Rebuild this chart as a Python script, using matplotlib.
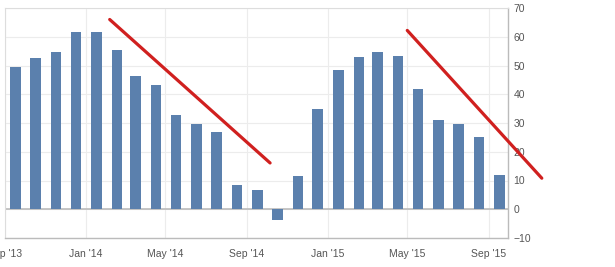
import numpy as np
import pandas as pd
import matplotlib
matplotlib.use("Agg")
import matplotlib.pyplot as plt

plt.rcParams["font.family"] = ["Liberation Sans", "DejaVu Sans"]

months = pd.date_range("2013-09-01", "2015-09-01", freq="MS")
values = [49.5, 52.6, 54.6, 61.7, 61.7, 55.4, 46.3, 43.2, 32.8, 29.7, 26.9, 8.3,
          6.8, -3.8, 11.4, 34.8, 48.3, 53.0, 54.8, 53.2, 41.7, 31.2, 29.7, 25.0, 11.8]

# hand-drawn trend lines
trend1_x = ["2014-02-06", "2014-10-06"]
trend1_y = [66.0, 16.1]
trend2_x = ["2015-05-01", "2015-11-20"]
trend2_y = [62.2, 10.8]

tick_dates = pd.to_datetime(["2013-09-01", "2014-01-01", "2014-05-01", "2014-09-01",
                             "2015-01-01", "2015-05-01", "2015-09-01"])
tick_labels = ["Sep '13", "Jan '14", "May '14", "Sep '14", "Jan '15", "May '15", "Sep '15"]

fig = plt.figure(figsize=(6.15, 2.67), dpi=100)
ax = fig.add_axes([5 / 615, 29 / 267, 503 / 615, 230 / 267])

bar_x = months + pd.Timedelta(days=16)
ax.bar(bar_x, values, width=16, color="#5b80ad", zorder=3)

ax.set_xlim(pd.Timestamp("2013-09-04"), pd.Timestamp("2015-09-30"))
ax.set_ylim(-10, 70)
ax.set_yticks(np.arange(-10, 71, 10))
ax.yaxis.tick_right()
ax.set_xticks(tick_dates)
ax.set_xticklabels(tick_labels)
ax.tick_params(axis="both", length=0, labelsize=7.5, colors="#555555")
ax.tick_params(axis="y", pad=4)
ax.tick_params(axis="x", pad=8)

ax.grid(True, color="#ececec", linewidth=0.8, zorder=0)
ax.axhline(0, color="#bbbbbb", linewidth=1.2, zorder=2)

for side in ["top", "left"]:
    ax.spines[side].set_color("#dddddd")
for side in ["right", "bottom"]:
    ax.spines[side].set_color("#bbbbbb")
    ax.spines[side].set_linewidth(1.0)

ax.plot(pd.to_datetime(trend1_x), trend1_y, color="#d0201f", linewidth=2.3,
        zorder=5, clip_on=False, solid_capstyle="round")
ax.plot(pd.to_datetime(trend2_x), trend2_y, color="#d0201f", linewidth=2.3,
        zorder=5, clip_on=False, solid_capstyle="round")

fig.savefig("out.png", dpi=100)
